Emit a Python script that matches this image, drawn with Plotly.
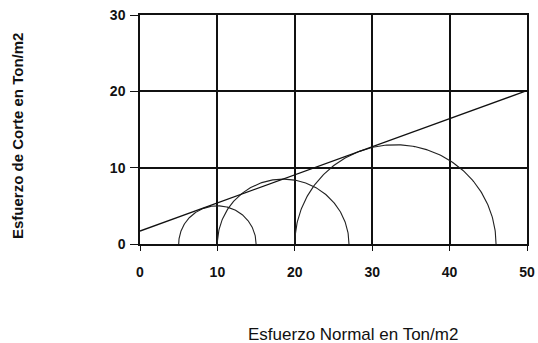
import numpy as np
import plotly.graph_objects as go

# Mohr circles (normal stress, Ton/m2)
sigma3 = [5, 10, 20]
sigma1 = [15, 27, 46]
# Failure envelope
env_x = [0, 50]
env_y = [1.7, 20.1]

x_ticks = [0, 10, 20, 30, 40, 50]
y_ticks = [0, 10, 20, 30]

fig = go.Figure()
theta = np.linspace(0, np.pi, 181)
for s3, s1 in zip(sigma3, sigma1):
    c = (s1 + s3) / 2
    r = (s1 - s3) / 2
    fig.add_trace(go.Scatter(x=c + r * np.cos(theta), y=r * np.sin(theta), mode="lines",
                             line=dict(color="#222222", width=1.1), hoverinfo="skip",
                             cliponaxis=False))
fig.add_trace(go.Scatter(x=env_x, y=env_y, mode="lines",
                         line=dict(color="#111111", width=1.3), hoverinfo="skip"))

tickfont = dict(family="Liberation Sans, Arial", size=14, color="#111111")
W, H = 538, 343
L, R, T, B = 140, 11, 15, 99
pw, ph = W - L - R, H - T - B

fig.update_layout(
    width=W, height=H,
    margin=dict(l=L, r=R, t=T, b=B, autoexpand=False),
    paper_bgcolor="white", plot_bgcolor="white",
    showlegend=False,
    xaxis=dict(range=[0, 50], tickvals=x_ticks, ticktext=[f"<b>{v}</b>" for v in x_ticks],
               showgrid=True, gridcolor="#111111", gridwidth=1.5, zeroline=False,
               showline=True, linecolor="#111111", linewidth=1.5, automargin=False,
               ticks="outside", ticklen=5, tickcolor="#111111", tickfont=tickfont,
               ticklabelstandoff=9, ticklabeloverflow="allow", mirror=True),
    yaxis=dict(range=[0, 30], tickvals=y_ticks, ticktext=[f"<b>{v}</b>" for v in y_ticks],
               showgrid=True, gridcolor="#111111", gridwidth=1.5, zeroline=False,
               showline=True, linecolor="#111111", linewidth=1.5, automargin=False,
               ticks="outside", ticklen=8, tickcolor="#111111", tickfont=tickfont,
               ticklabelstandoff=2, ticklabeloverflow="allow", mirror=True),
    annotations=[
        dict(text="Esfuerzo Normal en Ton/m2", xref="paper", yref="paper",
             x=(353 - L) / pw, y=(H - B - 334) / ph, showarrow=False,
             font=dict(family="Liberation Sans, Arial", size=17, color="#111111"),
             xanchor="center", yanchor="middle"),
        dict(text="<b>Esfuerzo de Corte en Ton/m2</b>", xref="paper", yref="paper",
             x=(17 - L) / pw, y=(H - B - 136) / ph, showarrow=False, textangle=-90,
             font=dict(family="Liberation Sans, Arial", size=15, color="#111111"),
             xanchor="center", yanchor="middle"),
    ],
)
fig.write_html("out.html", config={"displayModeBar": False},
               post_script="document.body.style.margin='0';")
